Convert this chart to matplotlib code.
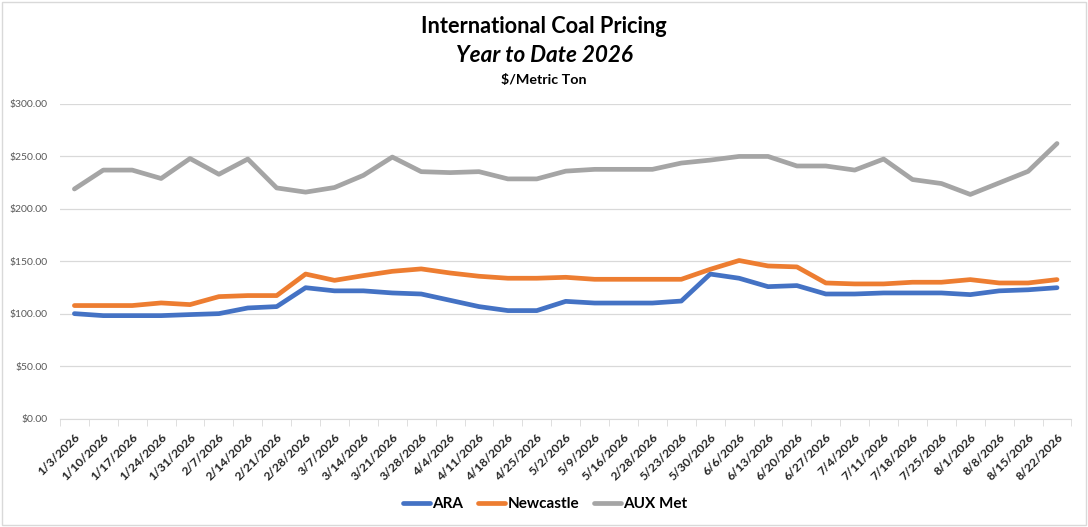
import matplotlib.pyplot as plt
import numpy as np
from matplotlib.patches import Rectangle

plt.rcParams['font.family'] = ['Lato', 'DejaVu Sans']

dates = ['1/3/2026', '1/10/2026', '1/17/2026', '1/24/2026', '1/31/2026', '2/7/2026',
         '2/14/2026', '2/21/2026', '2/28/2026', '3/7/2026', '3/14/2026', '3/21/2026',
         '3/28/2026', '4/4/2026', '4/11/2026', '4/18/2026', '4/25/2026', '5/2/2026',
         '5/9/2026', '5/16/2026', '2/28/2026', '5/23/2026', '5/30/2026', '6/6/2026',
         '6/13/2026', '6/20/2026', '6/27/2026', '7/4/2026', '7/11/2026', '7/18/2026',
         '7/25/2026', '8/1/2026', '8/8/2026', '8/15/2026', '8/22/2026']

ara = [100.3, 98.4, 98.4, 98.4, 99.4, 100.3, 105.7, 107.0, 125.0, 122.0, 122.0, 120.0,
       119.0, 113.0, 107.0, 103.2, 103.2, 112.0, 110.4, 110.4, 110.4, 112.3, 138.0, 134.0,
       126.0, 127.0, 119.0, 119.0, 120.0, 120.0, 120.0, 118.4, 122.0, 123.0, 125.0]

newcastle = [108.0, 108.0, 108.0, 110.5, 108.9, 116.5, 117.5, 117.5, 138.0, 132.0, 136.5, 140.6,
             142.9, 139.0, 135.9, 134.0, 134.0, 134.9, 133.0, 133.0, 133.0, 133.0, 142.5, 150.9,
             145.7, 144.8, 129.5, 128.6, 128.6, 130.2, 130.2, 132.7, 129.5, 129.5, 132.7]

aux_met = [219.0, 237.0, 237.0, 229.0, 248.0, 233.0, 247.5, 220.0, 216.0, 220.4, 232.0, 249.4,
           235.5, 234.6, 235.5, 228.6, 228.6, 236.0, 237.7, 237.7, 237.7, 243.7, 246.5, 250.0,
           250.0, 240.9, 240.9, 237.0, 247.5, 228.0, 224.2, 213.8, 224.8, 235.8, 262.3]

yticks = [0, 50, 100, 150, 200, 250, 300]

fig = plt.figure(figsize=(10.88, 5.27), dpi=100)
ax = fig.add_axes([0.0551, 0.205, 0.9297, 0.5978])

x = np.arange(len(dates))
ax.plot(x, ara, color='#4472C4', lw=3.4, solid_capstyle='round', label='ARA')
ax.plot(x, newcastle, color='#ED7D31', lw=3.4, solid_capstyle='round', label='Newcastle')
ax.plot(x, aux_met, color='#A5A5A5', lw=3.4, solid_capstyle='round', label='AUX Met')

ax.set_xlim(-0.5, len(dates) - 0.5)
ax.set_ylim(0, 300)
ax.set_yticks(yticks)
ax.set_yticklabels(['${:,.2f}'.format(v) for v in yticks], color='#595959', fontsize=7.5)
ax.tick_params(axis='y', length=0, pad=9)
ax.grid(axis='y', color='#D9D9D9', lw=0.9)
ax.set_axisbelow(True)

ax.set_xticks(x)
ax.set_xticklabels(dates, rotation=45, ha='right', rotation_mode='anchor',
                   fontsize=8.8, fontweight='bold', color='#262626')
ax.set_xticks(np.arange(-0.5, len(dates), 1), minor=True)
ax.tick_params(axis='x', which='major', length=0, pad=9)
ax.tick_params(axis='x', which='minor', length=5, color='#D9D9D9')

for s in ['top', 'right', 'left']:
    ax.spines[s].set_visible(False)
ax.spines['bottom'].set_color('#D9D9D9')

fig.text(0.5, 0.950, 'International Coal Pricing', ha='center', va='center',
         fontsize=15.7, fontweight='bold')
fig.text(0.5, 0.894, 'Year to Date 2026', ha='center', va='center',
         fontsize=16.2, fontweight='bold', style='italic')
fig.text(0.5, 0.849, '$/Metric Ton', ha='center', va='center',
         fontsize=10.3, fontweight='bold')

leg = fig.legend(loc='center', bbox_to_anchor=(0.501, 0.043), ncol=3, frameon=False,
                 prop={'weight': 'bold', 'size': 11}, handlelength=1.8,
                 handletextpad=0.15, columnspacing=0.95)

fig.patches.append(Rectangle((0.002, 0.003), 0.996, 0.994, transform=fig.transFigure,
                             fill=False, edgecolor='#D9D9D9', lw=1))

fig.savefig('out.png', dpi=100)
